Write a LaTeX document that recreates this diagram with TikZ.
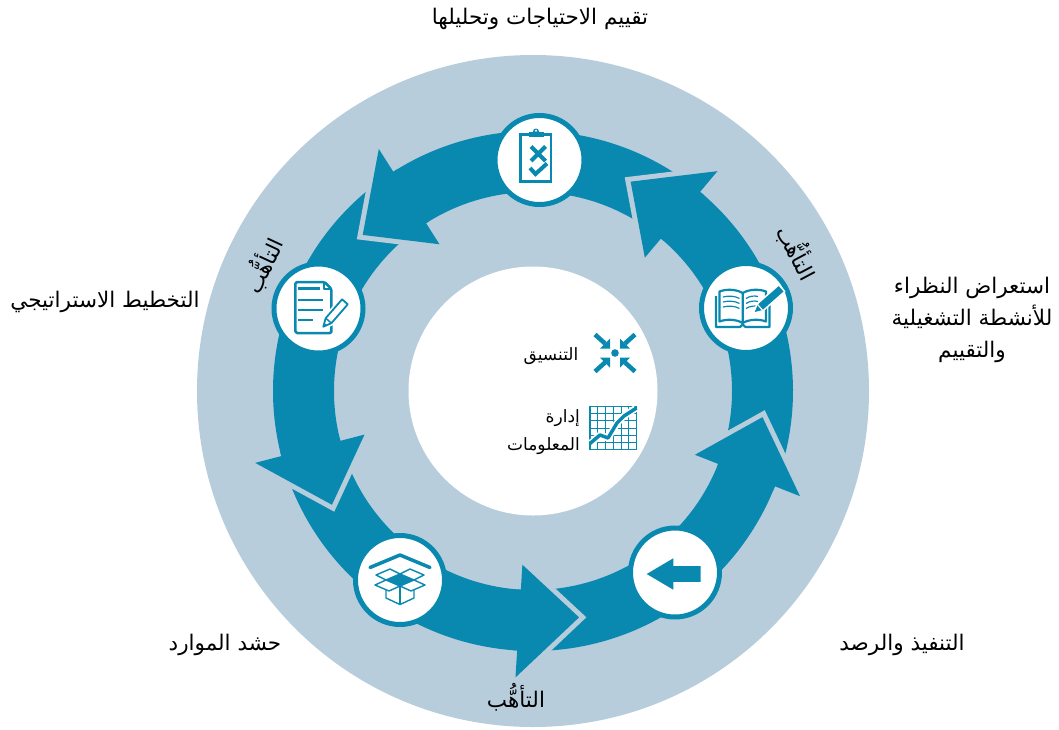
\documentclass[tikz,border=0pt]{standalone}
\usepackage{fontspec}
\newfontfamily\arabicfont[Script=Arabic]{DejaVu Sans}
\TeXXeTstate=1
\definecolor{ringdark}{HTML}{0A89B0}
\definecolor{ringlight}{HTML}{B7CDDC}
\tikzset{
  lbl/.style={font=\arabicfont\fontsize{21.5}{32}\selectfont, align=center, inner sep=0pt},
  innerlbl/.style={font=\arabicfont\fontsize{17}{28}\selectfont, inner sep=0pt},
  iconcircle/.style={circle, fill=white, draw=ringdark, line width=5pt, minimum size=89pt, inner sep=0pt},
  gapline/.style={draw=ringlight, line width=10pt, line join=miter},
}
\newcommand\ringband[2]{%
  \fill[ringdark] (#1:260pt) arc[start angle=#1, end angle=#2, radius=260pt]
    -- (#2:199pt) arc[start angle=#2, end angle=#1, radius=199pt] -- cycle;}
\newcommand\ringhead[2]{%
  \draw[gapline] (#1:174pt) -- (#2:231pt) -- (#1:287pt);
  \fill[ringdark] (#1:174pt) -- (#2:231pt) -- (#1:287pt) -- cycle;}
\begin{document}
\begin{tikzpicture}[x=1pt,y=1pt]
\useasboundingbox (-533,-338) rectangle (526,391);
\fill[white] (-533,-338) rectangle (526,391);
% background discs
\fill[ringlight] (0,0) circle[radius=336pt];
\fill[white] (0,0) circle[radius=124.5pt];
% bands
\ringband{-22.5}{50}
\ringband{49}{122.5}
\ringband{121.5}{194.5}
\ringband{193.5}{266.5}
\ringband{265.5}{338.5}
% heads
\ringhead{50}{65}
\ringhead{122.5}{137.5}
\ringhead{194.5}{209.5}
\ringhead{266.5}{281.5}
\ringhead{338.5}{353.5}
% icon circles
\node[iconcircle] (book) at (213,83) {};
\node[iconcircle] (clip) at (6.5,231) {};
\node[iconcircle] (doc) at (-214.5,82.5) {};
\node[iconcircle] (box) at (-133,-189) {};
\node[iconcircle] (arr) at (142,-181.5) {};
% clipboard
\begin{scope}[shift={(clip.center)}]
  \draw[ringdark, line width=2.7pt] (-18.8,-21.3) rectangle (11.5,25.5);
  \fill[ringdark] (-11,23.5) rectangle (4,28.5);
  \fill[ringdark] (-3.5,28.5) circle[radius=3pt];
  \fill[white] (-3.5,29.3) circle[radius=1.2pt];
  \draw[ringdark, line width=4pt] (-8.5,13.5) -- (6,-1) (-8.5,-1) -- (6,13.5);
  \draw[ringdark, line width=4pt] (-9.5,-8) -- (-4,-14) -- (7.5,-3.5);
\end{scope}
% book
\begin{scope}[shift={(book.center)}]
  \draw[ringdark, line width=2.2pt, line join=round] (-30,12) -- (-30,-19) -- (-6,-19) -- (-3.3,-16.5) -- (-0.6,-19) -- (23.5,-19) -- (23.5,12);
  \draw[ringdark, line width=2.2pt, line join=round] (-3.3,-15) -- (-3.3,15)
     .. controls (-10,19) and (-20,19) .. (-26.5,16.5) -- (-26.5,-13.5)
     .. controls (-20,-11) and (-10,-11) .. (-3.3,-15)
     .. controls (3.4,-11) and (13.4,-11) .. (20,-13.5) -- (20,16.5)
     .. controls (13.4,19) and (3.4,19) .. (-3.3,15);
  \foreach \dy in {9,4,-1}{
    \draw[ringdark, line width=1.2pt] (-23,{\dy+2}) .. controls (-17,{\dy+3.5}) and (-11,{\dy+3}) .. (-6.5,{\dy+0.5});
    \draw[ringdark, line width=1.2pt] (0,{\dy+0.5}) .. controls (4,{\dy+3}) and (8,{\dy+3.5}) .. (12,{\dy+2.5});
  }
  \begin{scope}[shift={(7.3,-5.3)}, rotate=41.4]
    \filldraw[fill=ringdark, draw=white, line width=1.5pt, line join=round] (0,0) -- (9,4.5) -- (38,4.5) -- (38,-4.5) -- (9,-4.5) -- cycle;
    \draw[white, line width=1.2pt] (9,4.5) -- (9,-4.5);
  \end{scope}
\end{scope}
% document
\begin{scope}[shift={(doc.center)}]
  \draw[ringdark, line width=2.5pt, line join=round, rounded corners=1.5pt] (-23,-24.5) -- (-23,26.5) -- (6,26.5) -- (13,19.5) -- (13,-24.5) -- cycle;
  \draw[ringdark, line width=2pt, line join=round] (6,26.5) -- (6,19.5) -- (13,19.5);
  \draw[ringdark, line width=2.2pt] (-20,20) -- (2,20) (-20,8.5) -- (5,8.5) (-20,-1.5) -- (5,-1.5) (-20,-11.5) -- (-5,-11.5);
  \begin{scope}[shift={(4.8,-18.2)}, rotate=49]
    \filldraw[fill=white, draw=white, line width=5pt, line join=round] (0,0) -- (8,3.8) -- (33,3.8) -- (33,-3.8) -- (8,-3.8) -- cycle;
    \filldraw[fill=white, draw=ringdark, line width=1.8pt, line join=round] (0,0) -- (8,3.8) -- (33,3.8) -- (33,-3.8) -- (8,-3.8) -- cycle;
    \draw[ringdark, line width=1.5pt] (8,3.8) -- (8,-3.8);
    \fill[ringdark] (0,0) -- (3.5,1.7) -- (3.5,-1.7) -- cycle;
  \end{scope}
\end{scope}
% box
\begin{scope}[shift={(box.center)}, ringdark, line width=1.4pt, line join=round]
  \draw[line width=3.5pt, line cap=round] (-30,12.5) -- (0,25) -- (30,12.5);
  \filldraw[fill=white] (-14,0) -- (-14,-18) -- (0,-24.5) -- (14,-18) -- (14,0);
  \draw (0,-6) -- (0,-24.5);
  \filldraw[fill=white] (-14,0) -- (-24,5) -- (-10,11) -- (0,6) -- cycle;
  \filldraw[fill=white] (14,0) -- (24,5) -- (10,11) -- (0,6) -- cycle;
  \filldraw[fill=white] (-14,0) -- (-25,-5) -- (-11,-11) -- (0,-6) -- cycle;
  \filldraw[fill=white] (14,0) -- (25,-5) -- (11,-11) -- (0,-6) -- cycle;
  \fill (-14,0) -- (0,6) -- (14,0) -- (0,-6) -- cycle;
\end{scope}
% left arrow icon
\begin{scope}[shift={(arr.center)}]
  \fill[ringdark] (-28.3,-1.5) -- (-1.7,14.2) -- (-1.7,6.3) -- (25.7,6.3) -- (25.7,-9.3) -- (-1.7,-9.3) -- (-1.7,-17.2) -- cycle;
\end{scope}
% coordination icon
\coordinate (coordicon) at (82,38);
\begin{scope}[shift={(coordicon)}, ringdark]
  \fill (0,0) circle[radius=3.8pt];
  \foreach \sx/\sy in {1/1,1/-1,-1/1,-1/-1}{
    \begin{scope}[xscale=\sx, yscale=\sy]
      \draw[line width=4.5pt] (20,18.5) -- (10,9.5);
      \fill (5,4.5) -- (15,4.5) -- (5,14.5) -- cycle;
    \end{scope}
  }
\end{scope}
% chart icon
\coordinate (chart) at (80.25,-37);
\foreach \i in {1,...,5}{
  \draw[ringdark, line width=0.9pt] ({57+7.75*\i},-58.5) -- ({57+7.75*\i},-15.5);
  \draw[ringdark, line width=0.9pt] (57,{-58.5+7.167*\i}) -- (103.5,{-58.5+7.167*\i});
}
\draw[ringdark, line width=1.4pt] (57,-58.5) rectangle (103.5,-15.5);
\draw[white, line width=7pt, line join=round] (58,-52) -- (67,-44) -- (75,-47) -- (84,-32) -- (91,-25) -- (102.5,-17.5);
\draw[ringdark, line width=3.5pt, line join=round] (57,-52.5) -- (67,-44) -- (75,-47) -- (84,-32) -- (91,-25) -- (103.5,-17);
% labels
\node[lbl] (t1) at (7,372) {\beginR تقييم الاحتياجات وتحليلها\endR};
\node[lbl] (t2) at (439,71) {\beginR استعراض النظراء\endR\\\beginR للأنشطة التشغيلية\endR\\\beginR والتقييم\endR};
\node[lbl] (t3) at (-428,89) {\beginR التخطيط الاستراتيجي\endR};
\node[lbl] (t4) at (-308,-254) {\beginR حشد الموارد\endR};
\node[lbl] (t5) at (369,-254) {\beginR التنفيذ والرصد\endR};
\node[lbl] (p1) at (-17,-306) {\beginR التأهُّب\endR};
\node[lbl, rotate=-62] (p2) at (265,139) {\beginR التأهُّب\endR};
\node[lbl, rotate=65] (p3) at (-270,126) {\beginR التأهُّب\endR};
\node[innerlbl] (c1) at (18,35) {\beginR التنسيق\endR};
\node[innerlbl, align=right, anchor=east] (c2) at (47,-41) {\beginR إدارة\endR\\\beginR المعلومات\endR};
\end{tikzpicture}
\end{document}
